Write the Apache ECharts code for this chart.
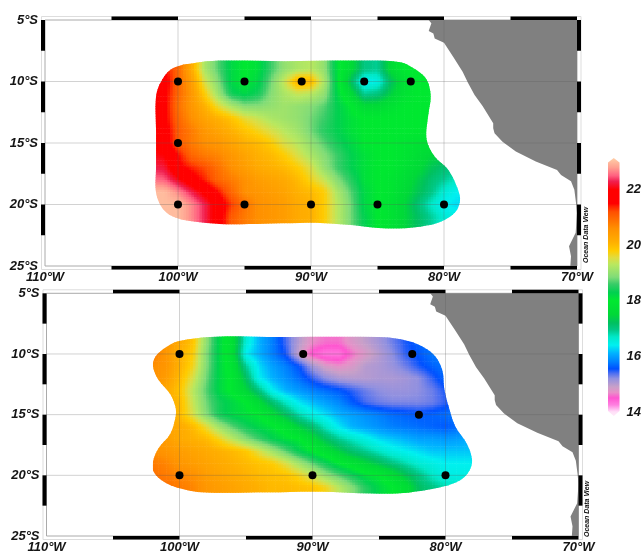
<!DOCTYPE html>
<html><head><meta charset="utf-8">
<style>html,body{margin:0;padding:0;background:#fff}#c{width:644px;height:554px}</style>
<script src="https://cdn.jsdelivr.net/npm/echarts@6/dist/echarts.min.js"></script>
</head><body><div id="c"></div>
<script>
const lonTicks=[102,101,100,99,98,97,96,95,94,93,92,91,90,89,88,87,86,85,84,83,82,81,80,79,78];
const latTicks=[8,9,10,11,12,13,14,15,16,17,18,19,20,21,22];
const fieldTop=[
[21.7,21.5,21,20.2,19.2,18.7,18.2,18,18.1,18.6,19,19.2,19.3,19,18.1,17.6,17,16.9,17.6,18,18,18,18,18,18],
[21.7,21.5,21,20.2,19.2,18.7,18.2,18,18.1,18.6,19,19.2,19.3,19,18.1,17.6,17,16.9,17.6,18,18,18,18,18,18],
[21.7,21.7,21,20.4,19.5,18.9,18.2,18,18.2,18.8,19.4,20.1,20,19.2,18.1,17.2,16.4,16.5,17.2,17.7,18,18,18,18,18],
[21.8,21.6,21,20.5,19.8,19.1,18.4,18.2,18.4,18.9,19.2,19.4,19.3,19,18.2,17.6,16.9,17,17.4,17.8,18,18,18,18,18],
[21.8,21.6,20.9,20.5,20.1,19.6,19.2,18.9,18.9,19,19.1,19,18.9,18.7,18.3,18,17.6,17.6,17.8,18,18,18,18,18,18],
[21.8,21.6,21,20.6,20.3,20.1,19.9,19.6,19.4,19.2,19.1,19,18.8,18.6,18.3,18.1,18,18,18,18,18,18,18,18,18],
[21.9,21.7,21.1,20.8,20.5,20.3,20.1,19.9,19.7,19.5,19.3,19.1,18.8,18.5,18.3,18.1,18,18,18,18,18,18,18,18,18],
[22,21.8,21.1,20.8,20.6,20.5,20.3,20.1,20,19.8,19.5,19.3,19,18.7,18.4,18.2,18,18,18,17.9,17.8,17.8,17.7,17.7,17.7],
[22.1,22,21.5,21,20.8,20.7,20.5,20.3,20.1,20,19.8,19.5,19.2,18.9,18.6,18.3,18.1,18,18,17.9,17.7,17.5,17.4,17.4,17.4],
[22.3,22.2,21.6,21.4,21.2,20.9,20.6,20.4,20.2,20.1,20,19.8,19.5,19,18.6,18.3,18.1,18,18,17.8,17.6,17.3,17.1,17,17],
[22.6,22.5,22.1,21.7,21.4,21,20.8,20.6,20.4,20.3,20.2,20,19.7,19.4,18.9,18.5,18.1,18,17.9,17.7,17.4,17.1,16.9,16.7,16.7],
[23,23,22.7,22.3,21.9,21.5,21,20.6,20.5,20.4,20.3,20.1,20,19.8,19.2,18.7,18.2,18,17.9,17.6,17.3,17,16.6,16.4,16.4],
[23,23,23,22.7,22.3,21.8,21.3,20.9,20.6,20.5,20.4,20.2,20.1,19.8,19.3,18.8,18.2,18,17.8,17.5,17.1,16.7,16.4,16.3,16.3],
[23,23,23,22.7,22.3,21.8,21.1,20.8,20.6,20.5,20.4,20.2,20.1,19.8,19.3,18.8,18.3,18,17.8,17.5,17.2,16.9,16.6,16.5,16.5],
[23,23,23,22.7,22.3,21.8,21.1,20.8,20.6,20.5,20.4,20.2,20.1,19.8,19.3,18.8,18.3,18,17.8,17.5,17.2,16.9,16.6,16.5,16.5]
];
const fieldBottom=[
[20.6,20.5,20.2,19.9,19,18.2,17.7,16.6,16.1,15.8,15.4,15,14.7,14.6,14.6,14.8,14.95,15.1,15.3,15.5,15.65,15.75,15.8,15.8,15.8],
[20.6,20.5,20.2,19.9,19,18.2,17.7,16.6,16.1,15.8,15.4,15,14.7,14.6,14.6,14.8,14.95,15.1,15.3,15.5,15.65,15.75,15.8,15.8,15.8],
[20.8,20.5,20.1,19.8,18.9,18.2,17.7,16.4,16.1,15.8,15.5,14.9,14.45,14.3,14.3,14.6,14.8,15,15.2,15.45,15.6,15.75,15.8,15.8,15.8],
[20.6,20.5,20.1,19.7,18.9,18.2,17.8,16.9,16.3,16,15.8,15.55,15.1,14.8,14.7,14.8,15,15.05,15.15,15.3,15.5,15.65,15.75,15.8,15.8],
[20.6,20.4,20,19.5,18.8,18.2,17.9,17.2,16.4,16.1,15.9,15.7,15.45,15.2,15.05,15,15,15.05,15.05,15.1,15.2,15.45,15.7,15.7,15.7],
[20.5,20.2,19.9,19.3,18.7,18.2,17.9,17.5,17,16.4,16.1,15.95,15.8,15.7,15.6,15.45,15.3,15.2,15.15,15.15,15.2,15.3,15.5,15.7,15.7],
[20.4,20.2,20,19.4,18.8,18.4,18.2,18,17.6,17.1,16.7,16.35,16.15,16,15.85,15.6,15.4,15.3,15.25,15.25,15.25,15.3,15.45,15.7,15.8],
[20.3,20.2,20,19.5,18.9,18.4,18.2,18.1,18,17.6,17.2,16.8,16.5,16.3,16.1,16,15.9,15.8,15.7,15.65,15.6,15.65,15.7,15.8,15.9],
[20.4,20.3,20.2,20,19.6,19.1,18.7,18.4,18.2,18.05,17.8,17.4,17.1,16.7,16.35,16.1,16,15.9,15.8,15.75,15.7,15.65,15.6,15.7,15.9],
[20.5,20.4,20.2,20.1,20,19.7,19.3,18.9,18.6,18.3,18.1,18,17.6,17.2,16.9,16.7,16.5,16.3,16.2,16.1,16,16,15.95,16,16.1],
[20.6,20.5,20.4,20.3,20.2,20.1,20,19.85,19.5,19.1,18.7,18.3,18,17.7,17.4,17.1,16.9,16.7,16.5,16.4,16.3,16.2,16.2,16.2,16.2],
[20.8,20.7,20.5,20.4,20.3,20.2,20.1,20,19.9,19.8,19.5,19.1,18.7,18.35,18,17.75,17.5,17.25,17,16.8,16.6,16.5,16.4,16.4,16.4],
[20.9,20.8,20.7,20.6,20.4,20.3,20.2,20.1,20,19.95,19.9,19.7,19.4,19,18.7,18.4,18.1,18,17.7,17.3,17,16.7,16.5,16.5,16.5],
[20.9,20.9,20.8,20.7,20.5,20.4,20.3,20.2,20.1,20,20,19.95,19.9,19.7,19.3,18.9,18.5,18.2,18,17.7,17.2,17,16.8,16.7,16.7],
[20.9,20.9,20.8,20.7,20.5,20.4,20.3,20.2,20.1,20,20,19.95,19.9,19.7,19.3,18.9,18.5,18.2,18,17.7,17.2,17,16.8,16.7,16.7]
];
const outlineTop=[[98.35,8.43],[100.35,8.9],[101.2,9.87],[101.65,11.2],[101.65,14],[101.65,16.9],[101.65,19.05],[101.1,20.4],[100.1,21.1],[98.35,21.45],[96.35,21.6],[90.85,21.5],[89.3,21.5],[86.8,21.68],[84.3,21.95],[81.8,21.8],[80.3,21.43],[79.2,20.68],[78.8,19.73],[78.95,18.78],[79.7,17.16],[80.7,16.1],[81.3,14.73],[81.2,12.84],[81,11.2],[81.3,9.86],[82.1,9.05],[83.3,8.43],[86.8,8.3],[92,8.35],[96.5,8.3]];
const outlineBottom=[[96.9,8.56],[99.95,8.9],[100.95,9.4],[101.8,10.2],[102,11],[101.6,12.1],[100.7,13.3],[100.3,14.4],[100.3,15.2],[100.7,16.6],[101.6,17.8],[102,18.9],[101.95,19.7],[101.2,20.5],[100,21.06],[98.2,21.4],[93.4,21.4],[89.4,21.35],[85.6,21.5],[83.6,21.5],[81.9,21.3],[80.1,20.9],[78.9,20.4],[78.25,19.7],[78,18.75],[78.4,17.4],[79.25,16],[79.75,14.4],[80.1,12.8],[80.25,11.3],[80.9,10.05],[82.1,9.2],[83.6,8.75],[85.1,8.6],[93.4,8.6]];
const coast=[[81.15,5],[80.95,5.27],[81.15,5.9],[80.8,6.1],[80.7,6.5],[80,6.84],[79.3,8],[78.6,9.2],[78.2,10.1],[77.7,11.1],[77.1,12],[76.3,13.4],[76.3,13.8],[76.2,14.2],[75.6,14.9],[74.6,15.7],[73.1,16.5],[71.5,17.2],[71.2,17.6],[70.45,18.1],[70.2,18.8],[70.07,19.9],[70,20.7],[70.1,22.3],[70.6,23.4],[70.45,24.2],[70.5,25],[70,25],[70,5]];
const stationsTop=[[100,10],[95,10],[90.7,10],[86,10],[82.5,10],[100,15],[100,20],[95,20],[90,20],[85,20],[80,20]];
const stationsBottom=[[100,10],[90.7,10],[82.5,10],[82,15],[100,20],[90,20],[80,20]];
const frameLon=[[105,100],[95,90],[85,80],[75,70]];
const frameLat=[[5,7.5],[10,12.5],[15,17.5],[20,22.5]];
const gridLon=[100,90,80];
const gridLat=[10,15,20];
const colorValues=[14,14.25,14.5,14.7,14.9,15.2,15.38,15.55,15.8,16.1,16.4,16.7,16.95,17.2,17.5,18,18.3,18.6,18.85,19.3,19.55,19.8,20.1,20.6,21.2,21.4,21.5,22,22.3,22.5,22.8,23.14];
const colorHex=['#ffe0f8','#ff80e0','#ff55d0','#e890c8','#c8a0c8','#9090e0','#5070f0','#0050ff','#0080ff','#00b0ff','#00f0f0','#00e8c8','#00c888','#00c060','#00d838','#00e830','#00d050','#38cc68','#80dc78','#b8e860','#e0dc40','#ffcc00','#ffb000','#ff9000','#ff5000','#ff2000','#ff0000','#ff0000','#f02050','#ff6080','#ffa090','#ffd0a8'];
const barTicks=[14,16,18,20,22];

const rgbStops=colorHex.map(h=>[parseInt(h.slice(1,3),16),parseInt(h.slice(3,5),16),parseInt(h.slice(5,7),16)]);
function colorOf(v){
  let i=0;
  if(v<=colorValues[0]) return colorHex[0];
  while(i<colorValues.length-2 && v>colorValues[i+1]) i++;
  const t=Math.min(1,(v-colorValues[i])/(colorValues[i+1]-colorValues[i]));
  const a=rgbStops[i],b=rgbStops[i+1];
  return 'rgb('+[0,1,2].map(k=>Math.round(a[k]+(b[k]-a[k])*t)).join(',')+')';
}
const SUB=5;
function fieldRender(field,outline){
  return function(params,api){
    const children=[];
    for(let r=0;r<latTicks.length-1;r++){
      for(let c=0;c<lonTicks.length-1;c++){
        const v00=field[r][c],v01=field[r][c+1],v10=field[r+1][c],v11=field[r+1][c+1];
        for(let j=0;j<SUB;j++){for(let i=0;i<SUB;i++){
          const fx=i/SUB,fy=j/SUB,gx=(i+.5)/SUB,gy=(j+.5)/SUB;
          const v=(v00*(1-gx)+v01*gx)*(1-gy)+(v10*(1-gx)+v11*gx)*gy;
          const p=api.coord([lonTicks[c]+(lonTicks[c+1]-lonTicks[c])*fx,latTicks[r]+(latTicks[r+1]-latTicks[r])*fy]);
          const q=api.coord([lonTicks[c]+(lonTicks[c+1]-lonTicks[c])*(i+1)/SUB,latTicks[r]+(latTicks[r+1]-latTicks[r])*(j+1)/SUB]);
          children.push({type:'rect',shape:{x:p[0],y:p[1],width:q[0]-p[0]+.6,height:q[1]-p[1]+.6},style:{fill:colorOf(v)}});
        }}
      }
    }
    return {type:'group',children,clipPath:{type:'polygon',shape:{smooth:0.35,points:outline.map(o=>api.coord(o))}}};
  };
}
function landRender(params,api){
  return {type:'polygon',shape:{points:coast.map(o=>api.coord(o))},style:{fill:'#808080'}};
}
function frameRender(params,api){
  const ch=[];
  const tl=api.coord([110,5]),br=api.coord([70,25]);
  const GL='rgba(90,90,90,0.27)';
  gridLon.forEach(l=>{const x=api.coord([l,5])[0];ch.push({type:'line',shape:{x1:x,y1:tl[1],x2:x,y2:br[1]},style:{stroke:GL,lineWidth:1}});});
  gridLat.forEach(l=>{const y=api.coord([110,l])[1];ch.push({type:'line',shape:{x1:tl[0],y1:y,x2:br[0],y2:y},style:{stroke:GL,lineWidth:1}});});
  ch.push({type:'rect',shape:{x:tl[0]-3.5,y:tl[1]-3.5,width:br[0]-tl[0]+7.5,height:br[1]-tl[1]+7},style:{fill:'none',stroke:'#ddd',lineWidth:1}});
  frameLon.forEach(s=>{const a=api.coord([s[0],5])[0],b=api.coord([s[1],5])[0];
    ch.push({type:'rect',shape:{x:a,y:tl[1]-3.5,width:b-a,height:3.5},style:{fill:'#000'}});
    ch.push({type:'rect',shape:{x:a,y:br[1],width:b-a,height:3.5},style:{fill:'#000'}});});
  frameLat.forEach(s=>{const a=api.coord([110,s[0]])[1],b=api.coord([110,s[1]])[1];
    ch.push({type:'rect',shape:{x:tl[0]-4,y:a,width:4,height:b-a},style:{fill:'#000'}});
    ch.push({type:'rect',shape:{x:br[0],y:a,width:4,height:b-a},style:{fill:'#000'}});});
  return {type:'group',children:ch};
}
function barRender(params,api){
  const t=api.coord([0,23.14]),bodyBot=api.coord([0,14])[1];
  const x0=api.coord([0,14])[0],x1=api.coord([1,14])[0],xm=(x0+x1)/2,tip=4.5;
  const span=23.14-13.85;
  const colorStops=colorValues.slice().reverse().map(v=>({offset:Math.min(1,(23.14-v)/span),color:colorOf(v)}));
  colorStops.push({offset:1,color:'#ffeaf8'});
  return {type:'polygon',shape:{points:[[xm,t[1]],[x1,t[1]+tip],[x1,bodyBot-1],[xm,bodyBot+4],[x0,bodyBot-1],[x0,t[1]+tip]]},
    style:{fill:{type:'linear',x:0,y:0,x2:0,y2:1,global:false,colorStops}}};
}
const labelFont={fontFamily:'"Liberation Sans",Arial,sans-serif',fontWeight:'bold',fontStyle:'italic',fontSize:13,color:'#151515'};
function xAxis(idx){return {gridIndex:idx,type:'value',min:70,max:110,interval:10,inverse:true,
  axisLine:{show:false},axisTick:{show:false},splitLine:{show:false},
  axisLabel:{...labelFont,margin:5,formatter:v=>v+'°W',hideOverlap:false,showMinLabel:true,showMaxLabel:true}};}
function yAxis(idx){return {gridIndex:idx,type:'value',min:5,max:25,interval:5,inverse:true,
  axisLine:{show:false},axisTick:{show:false},splitLine:{show:false},
  axisLabel:{...labelFont,margin:7,formatter:v=>v+'°S',showMinLabel:true,showMaxLabel:true}};}
function custom(idx,renderItem,z){return {type:'custom',xAxisIndex:idx,yAxisIndex:idx,coordinateSystem:'cartesian2d',data:[[0,0]],renderItem,silent:true,clip:false,z,animation:false};}
function points(idx,data){return {type:'scatter',xAxisIndex:idx,yAxisIndex:idx,data,symbol:'circle',symbolSize:8,itemStyle:{color:'#000',opacity:1},silent:true,z:6,animation:false};}
const chart=echarts.init(document.getElementById('c'),null,{renderer:'canvas'});
chart.setOption({
  animation:false,
  backgroundColor:'#fff',
  grid:[
    {left:45,top:20,width:532,height:246,show:true,backgroundColor:'#fff',borderColor:'#aaa',borderWidth:1},
    {left:46.5,top:293.3,width:532,height:245,show:true,backgroundColor:'#fff',borderColor:'#aaa',borderWidth:1},
    {left:608,top:158,width:17,height:254}
  ],
  xAxis:[xAxis(0),xAxis(1),{gridIndex:2,type:'value',min:0,max:1,show:false}],
  yAxis:[yAxis(0),yAxis(1),{gridIndex:2,type:'value',min:14,max:23.14,interval:2,position:'right',
    axisLine:{show:false},axisTick:{show:false},splitLine:{show:false},
    axisLabel:{...labelFont,margin:7,showMaxLabel:false,showMinLabel:true,formatter:v=>barTicks.includes(v)?String(v):''}}],
  series:[
    custom(0,fieldRender(fieldTop,outlineTop),2),
    custom(0,landRender,3),
    custom(0,frameRender,5),
    points(0,stationsTop),
    custom(1,fieldRender(fieldBottom,outlineBottom),2),
    custom(1,landRender,3),
    custom(1,frameRender,5),
    points(1,stationsBottom),
    custom(2,barRender,2)
  ],
  graphic:[
    {type:'text',x:583,y:263,rotation:Math.PI/2,silent:true,z:10,style:{text:'Ocean Data View',font:'italic bold 7px "Liberation Sans Narrow","Liberation Sans",Arial',fill:'#111'}},
    {type:'text',x:584,y:537,rotation:Math.PI/2,silent:true,z:10,style:{text:'Ocean Data View',font:'italic bold 7px "Liberation Sans Narrow","Liberation Sans",Arial',fill:'#111'}}
  ]
});
</script></body></html>
